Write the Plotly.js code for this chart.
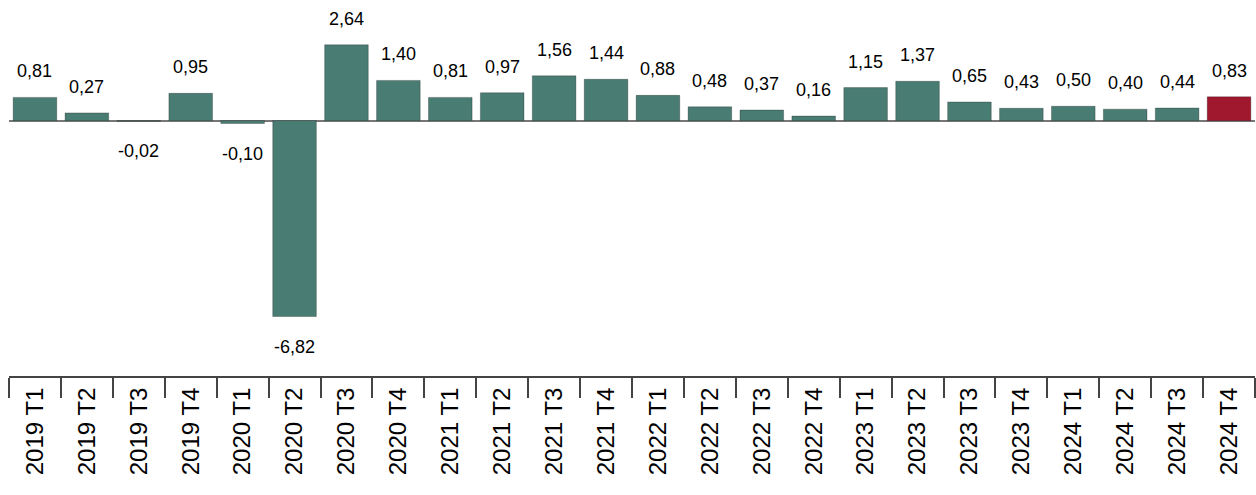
<!DOCTYPE html>
<html>
<head>
<meta charset="utf-8">
<script src="https://cdn.plot.ly/plotly-3.0.1.min.js"></script>
<style>body{margin:0;background:#fff}#chart{width:1256px;height:495px}</style>
</head>
<body>
<div id="chart"></div>
<script>
var quarters = ['2019 T1','2019 T2','2019 T3','2019 T4','2020 T1','2020 T2','2020 T3','2020 T4',
  '2021 T1','2021 T2','2021 T3','2021 T4','2022 T1','2022 T2','2022 T3','2022 T4',
  '2023 T1','2023 T2','2023 T3','2023 T4','2024 T1','2024 T2','2024 T3','2024 T4'];
var growth = [0.81,0.27,-0.02,0.95,-0.10,-6.82,2.64,1.40,0.81,0.97,1.56,1.44,0.88,0.48,0.37,0.16,
  1.15,1.37,0.65,0.43,0.50,0.40,0.44,0.83];

var colors = growth.map(function(v, i){ return i === growth.length - 1 ? '#a0182e' : '#497d73'; });

var annotations = growth.map(function(v, i){
  return {
    x: quarters[i], y: v, xref: 'x', yref: 'y',
    text: v.toFixed(2).replace('.', ','), showarrow: false,
    yanchor: v >= 0 ? 'bottom' : 'top', yshift: v >= 0 ? 14 : -18,
    font: {family: 'Liberation Sans, Arial', size: 18, color: '#000'}
  };
});

var trace = {
  type: 'bar', x: quarters, y: growth,
  marker: {color: colors, line: {color: 'rgba(0,0,0,0.25)', width: 1}},
  width: 0.84, hoverinfo: 'none'
};

var layout = {
  width: 1256, height: 495,
  margin: {l: 9, r: 1, t: 0, b: 119},
  paper_bgcolor: '#fff', plot_bgcolor: '#fff',
  showlegend: false,
  xaxis: {
    type: 'category', showline: true, linecolor: '#444', linewidth: 2,
    ticks: 'outside', tickson: 'boundaries', ticklen: 20, tickwidth: 2, tickcolor: '#444',
    tickangle: -90, showgrid: false, automargin: false,
    tickfont: {family: 'Liberation Sans, Arial', size: 24, color: '#000'}
  },
  yaxis: {
    range: [-8.89, 4.2], showgrid: false, showticklabels: false, ticks: '',
    zeroline: true, zerolinecolor: '#777', zerolinewidth: 2
  },
  annotations: annotations
};

Plotly.newPlot('chart', [trace], layout, {displayModeBar: false, staticPlot: true});
</script>
</body>
</html>
